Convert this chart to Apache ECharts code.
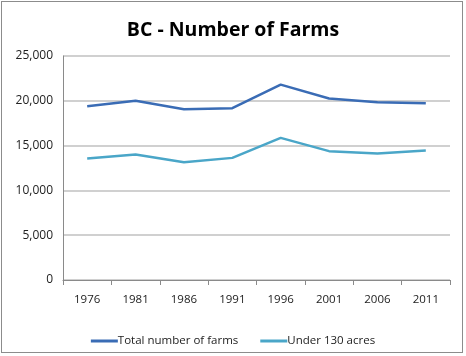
<!DOCTYPE html>
<html><head><meta charset="utf-8">
<script src="https://cdn.jsdelivr.net/npm/echarts@6/dist/echarts.min.js"></script>
<style>
html,body{margin:0;padding:0;background:#fff;}
#wrap{position:absolute;left:1px;top:1px;width:462px;height:352px;border:1px solid #8c8c8c;box-sizing:border-box;}
#chart{position:absolute;left:0;top:0;width:466px;height:356px;}
</style></head>
<body>
<div id="wrap"></div>
<div id="chart"></div>
<script>
const titleText = 'BC - Number of Farms';
const years = ['1976','1981','1986','1991','1996','2001','2006','2011'];
const seriesNames = ['Total number of farms','Under 130 acres'];
const totalFarms = [19400, 20000, 19060, 19170, 21800, 20250, 19840, 19730];
const under130 = [13560, 14010, 13150, 13630, 15860, 14380, 14120, 14450];
const yTicks = [0, 5000, 10000, 15000, 20000, 25000];

const chart = echarts.init(document.getElementById('chart'), null, {renderer:'canvas'});
const font = "'Open Sans', 'DejaVu Sans', sans-serif";
chart.setOption({
  animation:false,
  title:{text:titleText,left:'center',top:15,textStyle:{fontFamily:font,fontWeight:'bold',fontSize:19.5,color:'#000'}},
  grid:{left:63,right:16,top:56,bottom:76,containLabel:false},
  legend:{bottom:4,left:'center',itemWidth:27,itemHeight:3,itemGap:22,icon:'rect',
    textStyle:{fontFamily:font,fontSize:11.5,color:'#222',padding:[0,0,0,-5]},
    data:seriesNames},
  xAxis:{type:'category',data:years,boundaryGap:true,
    axisLine:{lineStyle:{color:'#8a8a8a',width:1}},
    axisTick:{show:true,length:5,inside:false,alignWithLabel:false,lineStyle:{color:'#8a8a8a'}},
    axisLabel:{fontFamily:font,fontSize:11.5,color:'#222',margin:14}},
  yAxis:{type:'value',min:yTicks[0],max:yTicks[yTicks.length-1],interval:5000,
    axisLine:{show:true,lineStyle:{color:'#8a8a8a',width:1}},
    axisTick:{show:false},
    splitLine:{lineStyle:{color:'#c0c0c0',width:1.5}},
    axisLabel:{fontFamily:font,fontSize:12,color:'#222',margin:10,
      formatter:v=>v.toLocaleString('en-US')}},
  series:[
    {name:seriesNames[0],type:'line',data:totalFarms,symbol:'none',smooth:false,
      lineStyle:{color:'#3a6cb5',width:2.5},itemStyle:{color:'#3a6cb5'}},
    {name:seriesNames[1],type:'line',data:under130,symbol:'none',smooth:false,
      lineStyle:{color:'#4aa6c8',width:2.5},itemStyle:{color:'#4aa6c8'}}
  ]
});
</script>
</body></html>
